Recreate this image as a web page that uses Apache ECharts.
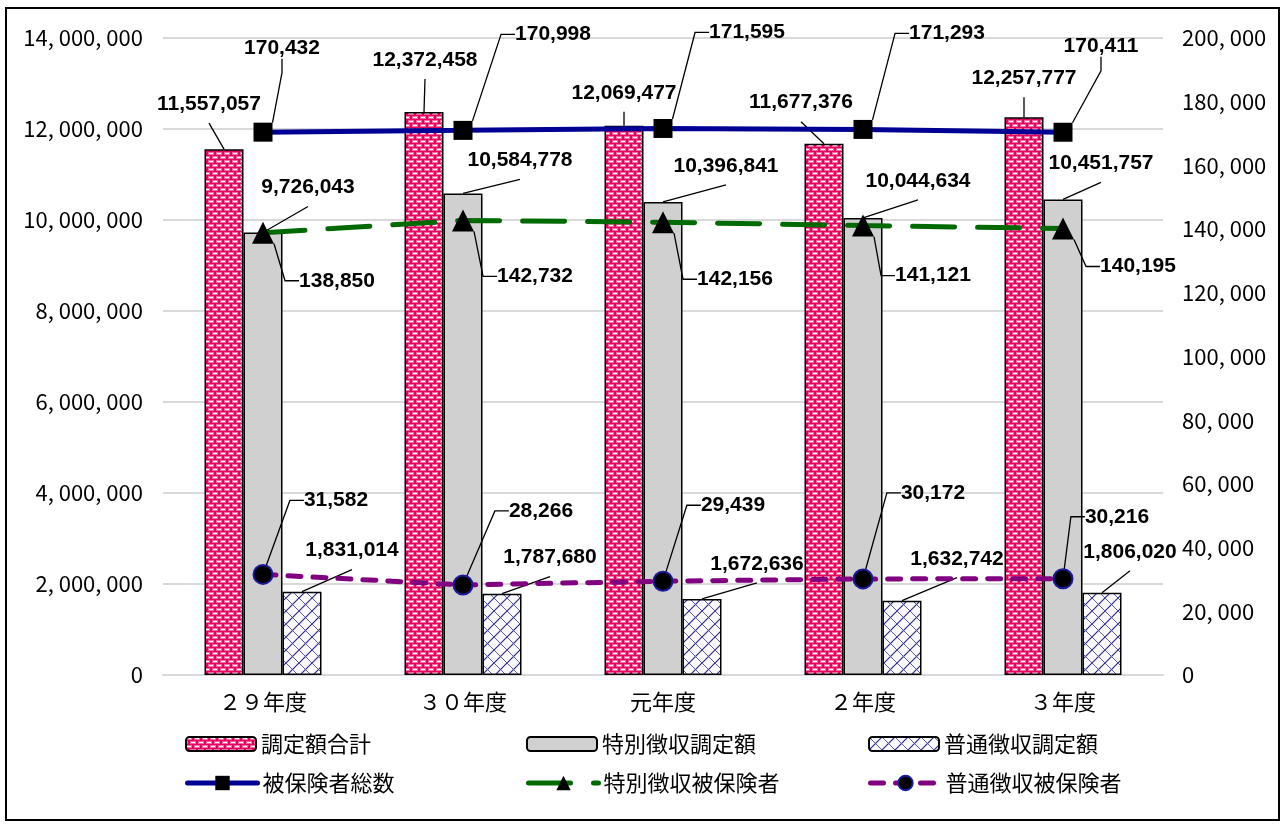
<!DOCTYPE html>
<html><head><meta charset="utf-8">
<script src="https://cdn.jsdelivr.net/npm/echarts@6/dist/echarts.min.js"></script>
<style>html,body{margin:0;padding:0;background:#fff}#c{width:1282px;height:824px}</style>
</head><body><div id="c"></div>
<script>
// ---- data ----
const categories = ['２９年度', '３０年度', '元年度', '２年度', '３年度'];
const totalAmount = [11557057, 12372458, 12069477, 11677376, 12257777];
const specialAmount = [9726043, 10584778, 10396841, 10044634, 10451757];
const normalAmount = [1831014, 1787680, 1672636, 1632742, 1806020];
const totalInsured = [170432, 170998, 171595, 171293, 170411];
const specialInsured = [138850, 142732, 142156, 141121, 140195];
const normalInsured = [31582, 28266, 29439, 30172, 30216];
const leftAxisMax = 14000000, leftAxisStep = 2000000;
const rightAxisMax = 200000, rightAxisStep = 20000;

// ---- label placement offsets (px) ----
const offTotalAmount = [[-15, -45], [1, -52], [0, -33], [-23, -41], [0, -39]];
const offSpecialAmount = [[45, -45], [57, -33], [63, -36], [55, -37], [38, -36]];
const offNormalAmount = [[50, -41], [48, -36], [55, -35], [55, -42], [28, -41]];
const offTotalInsured = [[19, -84], [90, -96], [84, -96], [84, -96], [38, -86]];
const offSpecialInsured = [[74, 48], [72, 56], [72, 57], [70, 50], [75, 38]];
const offNormalInsured = [[73, -74], [78, -74], [70, -76], [70, -86], [54, -62]];

const BAR_W = 39;

function pinkPattern() {
  const c = document.createElement('canvas'); c.width = 8; c.height = 8;
  const g = c.getContext('2d');
  g.fillStyle = '#e4005c'; g.fillRect(0, 0, 8, 8);
  g.fillStyle = '#f46aa2';
  g.fillRect(0, 0, 6, 3); g.fillRect(4, 4, 4, 3); g.fillRect(0, 4, 2, 3);
  g.fillStyle = '#ffffff';
  g.fillRect(1, 1, 4, 1); g.fillRect(5, 5, 3, 1); g.fillRect(0, 5, 1, 1);
  return c;
}
function hatchPattern() {
  const s = 13;
  const c = document.createElement('canvas'); c.width = s; c.height = s;
  const g = c.getContext('2d');
  g.fillStyle = '#fbfbff'; g.fillRect(0, 0, s, s);
  g.strokeStyle = '#2a2a8e'; g.lineWidth = 1.2;
  g.beginPath(); g.moveTo(-1, s + 1); g.lineTo(s + 1, -1); g.stroke();
  g.strokeStyle = '#5a5aa8'; g.lineWidth = 1;
  g.beginPath(); g.moveTo(-1, -1); g.lineTo(s + 1, s + 1); g.stroke();
  return c;
}

const labelFont = { color: '#000', fontFamily: 'Liberation Sans, Arial, sans-serif', fontWeight: 'bold', fontSize: 21 };
const cjk = 'Noto Sans CJK JP, sans-serif';

function barLayout(offs) {
  return function (p) {
    const o = offs[p.dataIndex];
    return {
      x: p.rect.x + p.rect.width / 2 + o[0], y: p.rect.y + o[1],
      align: 'center', verticalAlign: 'middle'
    };
  };
}
function pointLayout(offs) {
  return function (p) {
    const o = offs[p.dataIndex];
    return {
      x: p.rect.x + p.rect.width / 2 + o[0],
      y: p.rect.y + p.rect.height / 2 + o[1],
      align: 'center', verticalAlign: 'middle'
    };
  };
}
const fmt = v => v.toLocaleString('en-US');
const axisFmt = v => v.toLocaleString('en-US').replace(/,/g, ', ');

function barSeries(name, data, color, offs) {
  return {
    name, type: 'bar', data, barWidth: BAR_W, barGap: '0%', z: 2,
    itemStyle: { color, borderColor: '#000', borderWidth: 1.5 },
    label: Object.assign({ show: true, position: 'top', formatter: p => fmt(p.value) }, labelFont),
    labelLayout: barLayout(offs)
  };
}
// leader lines for bar labels, placed through the axes' coordinate system
function leaderSeries(data, slot, offs) {
  return {
    type: 'custom', z: 4, silent: true,
    data: data.map((v, i) => [i, v]),
    renderItem: function (params, api) {
      const p = api.coord([api.value(0), api.value(1)]);
      const o = offs[params.dataIndex];
      const bx = p[0] + slot * BAR_W;
      return {
        type: 'line',
        shape: { x1: bx, y1: p[1], x2: bx + o[0], y2: p[1] + o[1] + 19 },
        style: { stroke: '#000', lineWidth: 1.3 }
      };
    }
  };
}
function lineSeries(name, data, color, dash, symbol, size, symColor, symBorder, offs) {
  return {
    name, type: 'line', yAxisIndex: 1, data, z: 5,
    symbol, symbolSize: size, showSymbol: true,
    lineStyle: { color, width: 5, type: dash, cap: 'round' },
    itemStyle: { color: symColor, borderColor: symBorder || symColor, borderWidth: symBorder ? 2 : 0 },
    label: Object.assign({ show: true, formatter: p => fmt(p.value) }, labelFont),
    labelLayout: pointLayout(offs),
    labelLine: { show: true, length2: 14, lineStyle: { color: '#000', width: 1.3 } }
  };
}

const pink = { image: pinkPattern(), repeat: 'repeat' };
const hatch = { image: hatchPattern(), repeat: 'repeat' };

function legendAt(name, left, top, isLine) {
  const l = {
    data: [name], left, top, itemWidth: 70, itemHeight: isLine ? 18 : 14, itemGap: 0, selectedMode: false,
    textStyle: { fontFamily: cjk, fontSize: 22, color: '#000' }
  };
  if (isLine) l.lineStyle = { width: 5 };
  return l;
}

const chart = echarts.init(document.getElementById('c'), null, { renderer: 'canvas' });
chart.setOption({
  animation: false,
  backgroundColor: '#fff',
  grid: { left: 163, right: 119, top: 38, bottom: 149 },
  graphic: [{ type: 'rect', shape: { x: 6, y: 8, width: 1273, height: 812 }, style: { fill: 'none', stroke: '#000', lineWidth: 2 }, silent: true }],
  legend: [
    legendAt('調定額合計', 180, 728),
    legendAt('特別徴収調定額', 521, 728),
    legendAt('普通徴収調定額', 863, 728),
    legendAt('被保険者総数', 180, 767, true),
    legendAt('特別徴収被保険者', 521, 767, true),
    legendAt('普通徴収被保険者', 863, 767, true)
  ],
  xAxis: {
    type: 'category', data: categories,
    axisLine: { lineStyle: { color: '#d9d9d9', width: 2 } },
    axisTick: { show: false },
    axisLabel: { color: '#000', fontFamily: cjk, fontSize: 22, margin: 16 }
  },
  yAxis: [{
    type: 'value', min: 0, max: leftAxisMax, interval: leftAxisStep,
    axisLine: { show: false }, axisTick: { show: false },
    splitLine: { lineStyle: { color: '#d9d9d9', width: 2 } },
    axisLabel: { color: '#000', fontFamily: cjk, fontSize: 22, margin: 20, formatter: axisFmt }
  }, {
    type: 'value', min: 0, max: rightAxisMax, interval: rightAxisStep,
    axisLine: { show: false }, axisTick: { show: false }, splitLine: { show: false },
    axisLabel: { color: '#000', fontFamily: cjk, fontSize: 22, margin: 19, formatter: axisFmt }
  }],
  series: [
    barSeries('調定額合計', totalAmount, pink, offTotalAmount),
    barSeries('特別徴収調定額', specialAmount, '#d0d0d0', offSpecialAmount),
    barSeries('普通徴収調定額', normalAmount, hatch, offNormalAmount),
    leaderSeries(totalAmount, -1, offTotalAmount),
    leaderSeries(specialAmount, 0, offSpecialAmount),
    leaderSeries(normalAmount, 1, offNormalAmount),
    lineSeries('被保険者総数', totalInsured, '#000094', 'solid', 'rect', 19, '#000', null, offTotalInsured),
    lineSeries('特別徴収被保険者', specialInsured, '#006a00', [42, 23], 'triangle', 22, '#000', null, offSpecialInsured),
    lineSeries('普通徴収被保険者', normalInsured, '#800080', [13, 12], 'circle', 19, '#000', '#1a1a9a', offNormalInsured)
  ]
});
</script></body></html>
